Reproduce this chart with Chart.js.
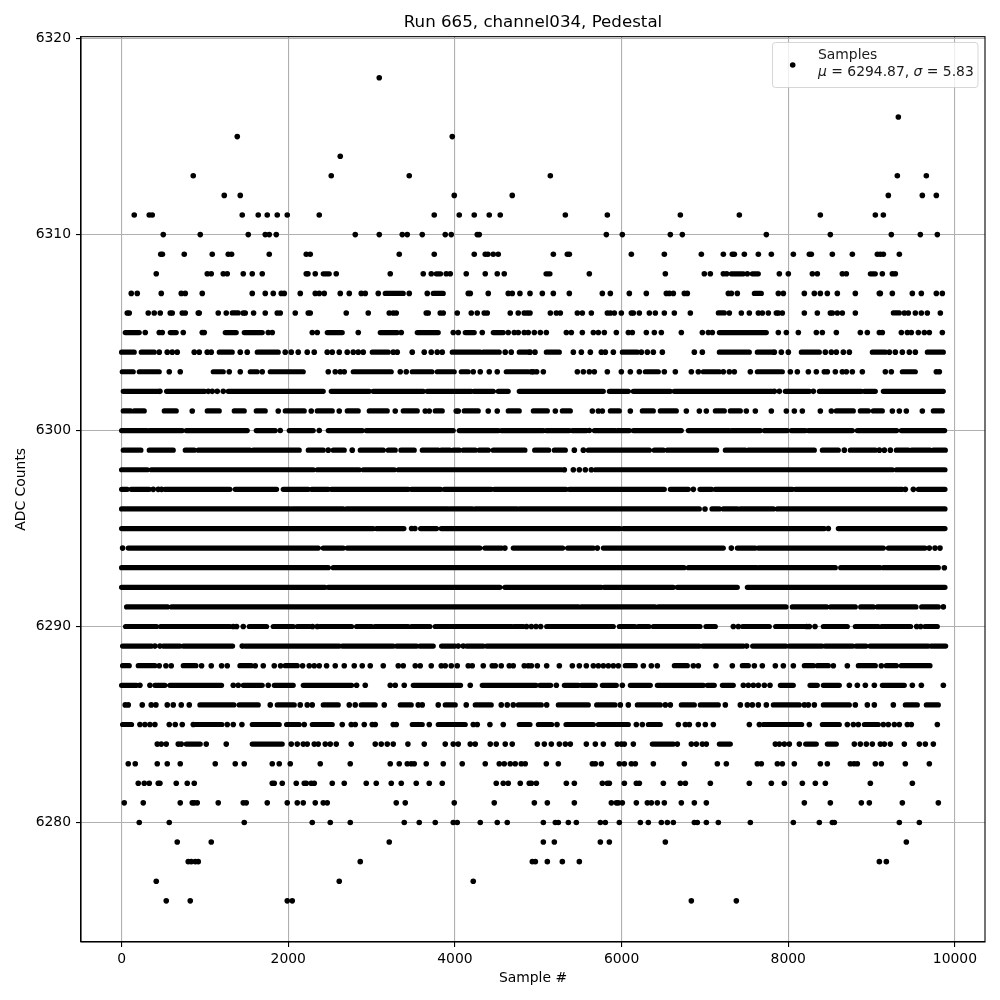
<!DOCTYPE html>
<html>
<head>
<meta charset="utf-8">
<title>Run 665, channel034, Pedestal</title>
<script src="https://cdn.jsdelivr.net/npm/chart.js@4"></script>
<style>
  html, body { margin: 0; padding: 0; background: #fff; }
  canvas { display: block; }
</style>
</head>
<body>
<canvas id="pedestalChart" width="1000" height="1000"></canvas>
<script>
// Sample numbers, one array per ADC level.
// A plain number is a single marker, [a, b] is a stretch where the markers merge into one bar.
const adc6318 = [3092];
const adc6316 = [9321];
const adc6315 = [1388, 3968];
const adc6314 = [2624];
const adc6313 = [860, 2516, 3452, 5145, 9309, 9657];
const adc6312 = [1232, 1424, 3992, 4688, 9201, 9609, 9777];
const adc6311 = [152, 332, 368, 1448, 1640, 1748, 1868, 1988, 2372, 3752, 4052, 4232, 4412, 4544, 5325, 5829, 6705, 7413, 8385, 9045, 9141];
const adc6310 = [500, 944, 1520, 1724, 1772, 1856, 2804, 3092, 3368, 3428, 3608, 3884, 3956, 4268, 4292, 5817, 6009, 6585, 6729, 7737, 8505, 9237, 9585, 9789];
const adc6309 = [470, 490, 752, 1088, 1280, 1320, 1772, 2216, 2264, 3332, 3752, 4232, 4364, 4396, 4460, 4520, 5181, 5349, 5373, 6117, 6513, 6957, 7221, 7329, 7353, 7473, 7641, 7797, 8061, 8253, 8277, 8529, 8769, 9069, 9105, 9141, 9333];
const adc6308 = [416, 1028, 1076, 1220, 1268, 1460, 1568, 1688, 2216, 2236, 2324, [2420, 2492], 2576, 3224, 3620, 3716, [3776, 3828], 3896, 3944, 4136, 4364, 4508, 4592, [5093, 5141], 5613, 6525, 6993, 7065, 7221, 7261, [7317, 7461], 7509, [7569, 7641], 7893, 8001, 8289, 8349, 8649, 8697, [8985, 9045], 9129, 9249, 9285];
const adc6307 = [116, 188, 476, 716, 764, 968, 1568, 1724, 1820, 1916, 1952, 2144, 2324, 2372, 2432, 2624, 2732, 2876, 2924, 3080, [3164, 3380], 3452, 3668, [3740, 3860], 4160, 4184, 4400, 4640, 4688, 4780, 4901, 5049, 5181, 5373, 5769, 5865, 6093, 6297, 6537, 6573, 6621, 6753, 6789, 7281, 7317, 7389, [7593, 7677], 7881, 7941, 8193, 8313, 8385, 8469, 8589, 8805, 9093, 9105, 9249, 9489, 9597, 9777, 9849];
const adc6306 = [68, 92, 320, 392, 464, 584, 608, 728, 764, 920, 932, 1160, 1256, [1328, 1400], 1460, 1484, 1584, 1724, 1868, 1904, 2084, 2240, 2264, 2696, 2960, 3212, 3260, 3296, 3656, 3680, 3824, 3860, 4028, 4196, 4268, 4352, 4388, 4664, 4760, 4832, 4868, 4901, 5145, 5217, 5265, 5469, 5529, 5637, 5829, 5865, 5913, 5997, 6117, 6141, 6213, 6333, 6405, 6513, 6633, 6825, [7161, 7233], 7293, 7437, 7533, 7641, 7689, 7761, 7857, 7881, 7929, 8193, 8349, 8505, 8529, 8589, 8649, 8805, [9261, 9333], 9393, 9441, 9525, 9597, 9669, 9825];
const adc6305 = [[44, 212], 284, 452, 488, [584, 656], 740, 968, 992, [1244, 1376], [1472, 1688], 1760, 1808, 2288, 2348, [2468, 2648], 2840, [3104, 3308], 3356, [3548, 3800], 3980, 4040, [4124, 4232], 4328, [4460, 4580], 4640, 4712, 4760, 4832, 4880, 4953, 5025, 5097, 5337, 5397, 5529, 5661, 5721, 5793, 5937, 6081, 6129, 6297, 6393, 6477, 6717, 6969, 7041, 7089, [7173, 7737], 7881, 7977, 8121, 8337, 8409, 8577, 8865, 8949, 9093, 9129, 9357, 9429, 9477, 9561, 9633, 9693, 9849];
const adc6304 = [[0, 152], [236, 392], 452, 548, 608, 668, 872, 932, 1028, 1076, [1172, 1328], 1424, 1508, [1628, 1880], 1964, 2036, 2120, 2228, 2312, 2468, 2528, 2612, 2708, 2780, 2840, 2900, [3008, 3200], 3260, 3308, 3488, 3632, 3716, 3788, 3848, [3968, 4304], [4340, 4532], 4604, 4676, [4772, 4880], 4901, 4961, [5097, 5253], 5421, 5517, 5625, 5757, 5805, 5901, [6009, 6189], 6237, 6309, 6381, 6489, 6873, 6969, [7173, 7533], [7629, 7809], 7833, 7917, 8001, [8157, 8373], 8445, 8517, 8577, 8661, 8733, [9009, 9165], 9213, 9285, 9369, 9453, 9525, [9669, 9861]];
const adc6303 = [[8, 140], [212, 452], 572, 704, [1100, 1220], 1292, 1424, [1544, 1628], 1688, [1784, 2180], 2480, 2564, 2624, 2672, [2780, 3236], 3344, 3416, [3488, 3724], [3788, 3992], [4076, 4160], 4220, 4304, 4412, 4508, [4616, 4880], 4917, 4941, 4981, 5061, 5469, 5541, 5613, 5673, 5829, 5997, 6105, 6213, [6285, 6441], 6513, 6645, 6837, 6921, [6981, 7173], 7221, 7293, 7353, 7545, [7629, 7929], 8025, 8109, 8241, 8337, 8433, 8469, 8565, 8649, 8697, 8769, 8889, 9165, 9237, [9369, 9525], 9777, 9813];
const adc6302 = [[20, 440], 460, [540, 996], 1040, 1088, 1148, 1220, [1280, 2420], [2516, 2972], [3020, 3620], [3668, 4196], [4228, 4460], [4520, 4640], [4772, 5781], [5853, 6081], [6141, 6585], [6633, 7809], 7833, 7893, [7965, 8253], 8301, [8373, 8877], [8913, 9045], [9141, 9861]];
const adc6301 = [[20, 108], [152, 272], [512, 656], 848, [1028, 1172], [1352, 1472], [1616, 1724], 1880, [1964, 2192], 2276, [2348, 2528], 2612, [2708, 2840], [2972, 3188], 3284, [3380, 3548], 3644, 3692, [3764, 3848], 4016, 4040, [4112, 4280], 4400, 4508, [4640, 4772], [4941, 5109], 5205, [5289, 5385], 5649, 5721, 5769, [5865, 5973], 6105, [6249, 6381], [6465, 6657], 6777, 6933, 7017, [7125, 7233], [7305, 7425], 7497, 7605, 7797, 7977, 8073, 8169, 8385, 8517, [8577, 8781], [8865, 8961], [9021, 9129], 9249, 9333, 9417, 9609, [9741, 9849]];
const adc6300 = [[0, 308], [332, 728], [776, 1508], [1616, 1844], 1904, [2012, 2300], 2372, [2480, 2888], [2936, 3980], [4052, 4520], [4556, 5061], [5097, 5373], [5409, 5577], 5613, [5673, 5925], [5949, 6093], [6141, 6717], [6801, 7293], [7317, 7665], [7713, 7989], [8037, 8205], [8241, 8769], [8829, 9301], [9357, 9877]];
const adc6299 = [[20, 232], [332, 620], [764, 872], [920, 1540], [1580, 2132], [2240, 2420], 2480, [2540, 2672], 2768, [2864, 3140], [3200, 3284], [3352, 3512], [3608, 3800], [3836, 3940], [3980, 4052], [4100, 4244], [4292, 4400], [4460, 4840], [4957, 5125], [5193, 5325], 5433, 5541, [5601, 6333], [6393, 6501], [6549, 7141], [7245, 7485], [7521, 8313], [8409, 8601], 8673, [8745, 9045], 9093, 9153, 9225, [9297, 9441], [9481, 9701], [9741, 9885]];
const adc6298 = [[0, 308], [356, 2300], [2348, 2852], [2900, 3272], [3320, 5277], 5313, 5421, 5493, 5565, 5637, [5685, 9249], [9297, 9881]];
const adc6297 = [[0, 68], [116, 332], 380, 440, 480, [520, 1300], [1364, 1860], [1940, 2240], [2280, 2480], [2516, 3440], [3476, 3828], [3872, 4436], [4472, 5333], [5373, 6513], [6585, 6801], 6861, [6941, 7081], [7125, 8049], [8085, 9369], 9405, 9501, [9561, 9881]];
const adc6296 = [[0, 2020], [2052, 2660], [2700, 3920], [3940, 4208], [4244, 4748], [4772, 6933], 7001, [7085, 7173], [7221, 7389], [7425, 7821], [7869, 9881]];
const adc6295 = [[0, 3020], [3060, 3388], 3480, 3520, [3588, 3780], [3836, 5981], [6021, 8433], 8481, [8601, 9881]];
const adc6294 = [12, [80, 2360], [2420, 2660], [2708, 4300], [4360, 4560], 4600, [4700, 5293], [5353, 5661], 5709, [5781, 7221], 7317, [7389, 7605], [7641, 9141], [9201, 9641], 9693, 9761, 9821];
const adc6293 = [[0, 2480], [2540, 6749], [6801, 7621], [7653, 8565], [8629, 9101], [9141, 9801], 9873];
const adc6292 = [[0, 2440], [2480, 4540], [4600, 5757], [5789, 6621], [6669, 7389], [7509, 9881]];
const adc6291 = [[60, 552], [600, 5481], [5517, 6401], [6441, 7973], [8049, 8461], [8509, 8805], [8869, 9021], [9069, 9533], [9601, 9801], 9861];
const adc6290 = [[48, 420], [468, 1300], 1340, 1380, 1460, [1532, 1740], [1820, 2060], [2108, 2260], 2292, 2348, [2380, 2760], [2820, 3000], [3040, 3440], [3480, 3700], [3764, 4680], [4712, 4820], 4860, 4917, 4973, 5029, [5101, 5901], [5973, 6161], [6201, 6329], [6381, 6941], [7013, 7125], 7341, 7401, [7453, 7773], [7849, 8201], 8221, 8253, 8321, [8421, 8709], [8805, 9081], [9121, 9469], 9541, 9589, [9641, 9789]];
const adc6289 = [[12, 360], 400, 460, [500, 700], [740, 1332], 1448, [1480, 2612], [2648, 3260], [3300, 3540], [3580, 3740], [3840, 4000], 4040, 4100, [4140, 4340], [4380, 6933], [6973, 7461], 7501, [7573, 7973], [8013, 8405], [8441, 8773], [8813, 8933], [8981, 9681], [9713, 9889]];
const adc6288 = [[12, 92], [200, 400], 452, 532, 596, [740, 892], 960, 1076, 1200, 1268, [1420, 1556], 1604, 1700, 1832, 1908, [1964, 2108], 2172, 2252, 2312, 2372, 2460, 2564, 2672, 2792, 2888, 2984, 3140, 3320, 3380, 3524, 3584, 3716, 3836, 3884, 3956, 4028, 4160, 4208, 4340, 4448, 4484, 4556, 4652, 4700, 4832, 4880, 4917, 4989, 5101, 5253, 5409, 5493, 5577, 5661, 5721, 5781, 5841, 5901, 5961, [6045, 6165], 6261, 6357, 6429, [6633, 6789], 6861, 6921, 7133, 7329, [7449, 7521], 7593, 7689, 7845, 7941, 8061, [8193, 8301], [8349, 8481], 8541, 8709, [8841, 9045], 9117, [9177, 9297], [9357, 9701]];
const adc6287 = [[0, 180], 220, 340, [400, 520], [580, 1200], 1340, 1400, [1460, 1688], 1760, [1832, 2060], [2180, 2760], 2820, 2924, 3224, 3284, 3392, [3500, 4068], 4184, [4328, 4973], [5021, 5149], 5217, [5313, 5481], [5517, 5685], [5769, 5937], 6009, [6105, 6345], [6429, 6981], [7029, 7113], [7209, 7341], 7461, 7521, 7581, 7641, 7713, 7781, [7905, 8061], [8261, 8349], [8421, 8613], 8733, 8829, 8925, 9033, [9129, 9393], 9489, 9597, 9861];
const adc6286 = [44, 80, 248, 356, 412, 548, 620, 716, 812, [940, 1348], [1412, 1640], 1784, [1868, 2072], 2144, 2228, 2288, [2420, 2600], 2732, 2804, [2876, 3044], 3152, [3344, 3476], 3560, 3608, 3800, [3884, 4004], 4136, [4244, 4436], 4556, 4628, 4700, [4760, 5037], 5101, [5241, 5601], [5701, 5921], 5985, 6081, [6189, 6465], 6525, 6585, [6717, 6873], [6945, 7161], 7245, 7425, 7509, 7569, 7641, 7737, [7821, 8133], 8193, 8241, 8313, [8421, 8733], 8805, 8949, 9033, 9261, [9405, 9549], [9657, 9801]];
const adc6285 = [[12, 120], 220, 280, 340, 400, 572, 644, 728, 860, [884, 1204], 1268, 1340, 1444, [1568, 1892], [1980, 2132], 2192, [2288, 2528], 2648, 2756, 2804, 2912, 3008, 3044, 3260, 3296, [3488, 3608], 3692, [3800, 4124], 4220, 4268, 4420, 4580, [4772, 4901], [5001, 5161], 5225, [5333, 5661], [5721, 6081], 6177, 6249, [6321, 6465], 6681, 6765, 6813, 6921, 7005, 7101, 7533, 7653, [7701, 8161], 8253, [8409, 8613], 8709, 8781, 8841, [8913, 9081], 9141, 9201, 9273, 9333, 9429, 9477, 9789];
const adc6284 = [428, 476, 536, 680, 716, [776, 944], 1016, 1256, [1568, 1928], 2036, 2108, 2180, 2228, 2312, 2360, 2444, 2504, 2576, 2756, 3044, 3116, 3188, 3260, 3436, 3632, 3884, 3980, 4040, 4184, 4244, 4424, 4496, 4604, 4688, 4989, 5073, 5157, 5253, 5325, 5385, 5577, 5685, 5781, 5949, 5997, 6033, 6141, [6369, 6621], 6669, 6837, 6897, 6969, 7017, [7173, 7305], 7845, 7893, 7953, 8013, 8133, [8209, 8337], [8469, 8577], 8793, 8865, 8937, 9009, 9105, 9153, 9225, 9393, 9573, 9645, 9741];
const adc6283 = [80, 164, 428, 548, 704, 1124, 1364, 1472, 1808, 1892, 2024, 2384, 2744, 3224, 3332, 3428, 3476, 3512, 3656, 3860, 4088, 4364, 4532, 4592, 4664, 4724, 4796, 4844, 5097, 5241, 5649, 5685, 5757, 5973, 6033, 6117, 6165, 6381, 6753, 7149, 7257, 7629, 7677, 7869, 7929, 8073, 8385, 8469, 8745, 8790, 8829, 9045, 9117, 9405, 9693];
const adc6282 = [200, 272, 332, 440, 460, 656, 788, 872, 1808, 1832, 1928, 2096, 2192, 2216, 2276, 2312, 2528, 2672, 2936, 3056, 3236, 3356, 3536, 3692, 3848, 4496, 4580, 4640, 4784, 4892, 4917, 4977, 5337, 5433, 5769, 5829, 5853, 6033, 6177, 6213, 6501, 6705, 6765, 7065, 7533, 7797, 7953, 8169, 8325, 8445, 8985, 9489];
const adc6281 = [32, 260, 704, 848, 872, 908, 1160, 1460, 1496, 1748, 1988, 2108, 2180, 2324, 2420, 2468, 3296, 3404, 3992, 4472, 4953, 5109, 5433, 5877, 5937, 5961, 6009, 6177, 6309, 6357, 6429, 6513, 6717, 6873, 7017, 8193, 8505, 8877, 8973, 9369, 9801];
const adc6280 = [212, 572, 1472, 2288, 2504, 2744, 3392, 3572, 3764, 3980, 4028, 4304, 4508, 4628, 5061, 5205, 5241, 5361, 5457, 5745, 5805, 5973, 6225, 6321, 6477, 6549, 6621, 6873, 6909, 7017, 7161, 7545, 8061, 8373, 8529, 8553, 9333, 9573];
const adc6279 = [668, 1076, 3212, 5061, 5193, 5745, 5853, 6525, 9417];
const adc6278 = [800, 836, 884, 920, 2864, 4929, 4965, 5109, 5289, 5493, 9093, 9177];
const adc6277 = [416, 2612, 4220];
const adc6276 = [536, 824, 1988, 2048, 6837, 7377];

const adcLevels = [6318, 6316, 6315, 6314, 6313, 6312, 6311, 6310, 6309, 6308, 6307, 6306, 6305, 6304, 6303, 6302, 6301, 6300, 6299, 6298, 6297, 6296, 6295, 6294, 6293, 6292, 6291, 6290, 6289, 6288, 6287, 6286, 6285, 6284, 6283, 6282, 6281, 6280, 6279, 6278, 6277, 6276];
const adcRows = [adc6318, adc6316, adc6315, adc6314, adc6313, adc6312, adc6311, adc6310, adc6309, adc6308, adc6307, adc6306, adc6305, adc6304, adc6303, adc6302, adc6301, adc6300, adc6299, adc6298, adc6297, adc6296, adc6295, adc6294, adc6293, adc6292, adc6291, adc6290, adc6289, adc6288, adc6287, adc6286, adc6285, adc6284, adc6283, adc6282, adc6281, adc6280, adc6279, adc6278, adc6277, adc6276];

const xTicks = [0, 2000, 4000, 6000, 8000, 10000];
const yTicks = [6280, 6290, 6300, 6310, 6320];

const chartTitle = 'Run 665, channel034, Pedestal';
const xLabel = 'Sample #';
const yLabel = 'ADC Counts';
const legendName = 'Samples';
const meanValue = '6294.87';
const sigmaValue = '5.83';

const FONT = '"DejaVu Sans", sans-serif';
const MARK_R = 2.8;

const singlePoints = [];
const runPoints = [];
adcRows.forEach((row, i) => {
    const y = adcLevels[i];
    row.forEach((item) => {
        if (Array.isArray(item)) {
            runPoints.push({ x: item[0], y }, { x: item[1], y }, { x: null, y: null });
        } else {
            singlePoints.push({ x: item, y });
        }
    });
});

// frame and legend box are not something the library draws the way the reference has them
const framePlugin = {
    id: 'frameAndLegend',
    afterDraw(chart) {
        const { ctx, chartArea: a } = chart;
        ctx.save();
        ctx.strokeStyle = '#000';
        ctx.lineWidth = 1.1;
        ctx.strokeRect(a.left, a.top, a.right - a.left, a.bottom - a.top);

        const bx = 772.5, by = 42.5, bw = 205.5, bh = 45;
        ctx.beginPath();
        ctx.roundRect(bx, by, bw, bh, 3);
        ctx.fillStyle = 'rgba(255,255,255,0.8)';
        ctx.fill();
        ctx.strokeStyle = 'rgba(204,204,204,0.8)';
        ctx.lineWidth = 1;
        ctx.stroke();

        ctx.fillStyle = '#000';
        ctx.beginPath();
        ctx.arc(792.7, 65, MARK_R, 0, Math.PI * 2);
        ctx.fill();

        ctx.fillStyle = '#1a1a1a';
        ctx.textBaseline = 'alphabetic';
        ctx.textAlign = 'left';
        const plain = '13.9px ' + FONT;
        const ital = 'italic 13.9px ' + FONT;
        ctx.font = plain;
        ctx.fillText(legendName, 818, 59);
        const parts = [['\u03bc', ital], [' = ' + meanValue + ', ', plain], ['\u03c3', ital], [' = ' + sigmaValue, plain]];
        let tx = 818;
        parts.forEach(([t, f]) => {
            ctx.font = f;
            ctx.fillText(t, tx, 76);
            tx += ctx.measureText(t).width;
        });
        ctx.restore();
    }
};

new Chart(document.getElementById('pedestalChart'), {
    type: 'scatter',
    data: {
        datasets: [
            {
                label: legendName,
                data: singlePoints,
                showLine: false,
                backgroundColor: '#000',
                borderColor: '#000',
                pointRadius: MARK_R,
                pointBorderWidth: 0
            },
            {
                label: legendName + ' (merged)',
                data: runPoints,
                showLine: true,
                spanGaps: false,
                borderColor: '#000',
                borderWidth: 5.2,
                borderCapStyle: 'round',
                pointRadius: 0
            }
        ]
    },
    options: {
        responsive: false,
        animation: false,
        layout: { padding: { left: 0, right: 15, top: 0, bottom: 0 } },
        scales: {
            x: {
                type: 'linear',
                min: -487,
                max: 10361,
                afterFit: (s) => { s.height = 58; },
                afterBuildTicks: (s) => { s.ticks = xTicks.map((value) => ({ value })); },
                ticks: {
                    maxRotation: 0,
                    color: '#000',
                    padding: 4,
                    font: { family: FONT, size: 13.9 },
                    callback: (v) => String(v)
                },
                grid: { color: '#b0b0b0', lineWidth: 1.1, tickColor: '#000', tickLength: 5 },
                border: { color: '#000', width: 1.1 },
                title: { display: true, text: xLabel, color: '#000', font: { family: FONT, size: 13.9 }, padding: { top: 13, bottom: 13 } }
            },
            y: {
                min: 6273.9,
                max: 6320.1,
                afterFit: (s) => { s.width = 81; },
                afterBuildTicks: (s) => { s.ticks = yTicks.map((value) => ({ value })); },
                ticks: {
                    color: '#000',
                    padding: 5,
                    font: { family: FONT, size: 13.9 },
                    callback: (v) => String(v)
                },
                grid: { color: '#b0b0b0', lineWidth: 1.1, tickColor: '#000', tickLength: 5 },
                border: { color: '#000', width: 1.1 },
                title: { display: true, text: yLabel, color: '#000', font: { family: FONT, size: 13.9 }, padding: { top: 13, bottom: 13 } }
            }
        },
        plugins: {
            legend: { display: false },
            tooltip: { enabled: false },
            title: {
                display: true,
                fullSize: false,
                text: chartTitle,
                color: '#000',
                font: { family: FONT, size: 16.67, weight: 'normal', lineHeight: 1 },
                padding: { top: 14.5, bottom: 5.5 }
            }
        }
    },
    plugins: [framePlugin]
});
</script>
</body>
</html>
